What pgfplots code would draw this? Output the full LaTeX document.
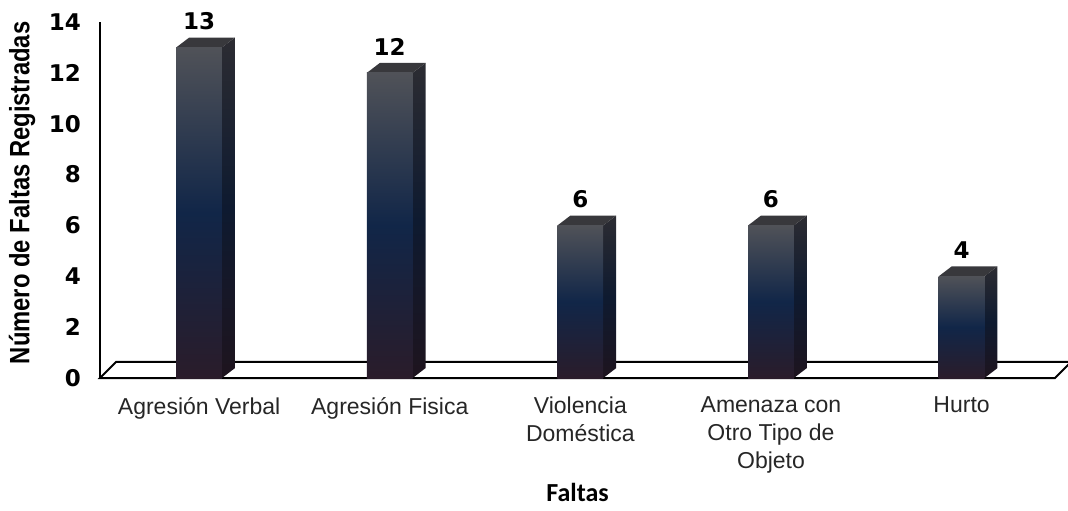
\documentclass[border=0pt]{standalone}
\usepackage{fontspec}
\setmainfont{Liberation Sans}
\newfontfamily\dejavu{DejaVu Sans}
\newfontfamily\narrowbold[FakeStretch=0.85]{Liberation Sans Bold}
\newfontfamily\carlito{Carlito}
\usepackage{pgfplots}
\pgfplotsset{compat=1.18}

\definecolor{fronttop}{RGB}{80,82,88}
\definecolor{frontmid}{RGB}{17,38,72}
\definecolor{frontbot}{RGB}{42,28,42}
\definecolor{sidetop}{RGB}{44,44,50}
\definecolor{sidemid}{RGB}{14,26,48}
\definecolor{sidebot}{RGB}{30,20,30}
\definecolor{topface}{RGB}{56,56,60}
\definecolor{labelgray}{RGB}{38,38,38}

% one 3D bar: #1 = category position, #2 = value
\newcommand{\cubebar}[2]{%
  \pgfmathsetmacro\xa{#1-0.12}%
  \pgfmathsetmacro\xb{#1+0.12}%
  \pgfmathsetmacro\xc{#1+0.188}%
  \pgfmathsetmacro\xd{#1-0.052}%
  \pgfmathsetmacro\yt{#2+0.39}%
  \edef\cubebarbody{%
    \noexpand\addplot[draw=none, top color=sidetop, bottom color=sidebot, middle color=sidemid]
      coordinates {(\xb,0) (\xc,0.39) (\xc,\yt) (\xb,#2)} --cycle;
    \noexpand\addplot[draw=none, fill=topface]
      coordinates {(\xa,#2) (\xb,#2) (\xc,\yt) (\xd,\yt)} --cycle;
    \noexpand\addplot[draw=none, top color=fronttop, bottom color=frontbot, middle color=frontmid]
      coordinates {(\xa,0) (\xb,0) (\xb,#2) (\xa,#2)} --cycle;
  }\cubebarbody
}

\begin{document}
\begin{tikzpicture}
\useasboundingbox (-50pt,-66pt) rectangle (484pt,189pt);
\begin{axis}[
  width=477.5pt, height=178pt, scale only axis,
  xmin=-0.52, xmax=4.49, ymin=0, ymax=14,
  clip=false,
  axis lines=left,
  axis line style={-},
  x axis line style={draw=none},
  y axis line style={line width=1pt},
  ytick={0,2,...,14},
  xtick={0,...,4},
  major tick length=0pt,
  /pgf/number format/assume math mode=true,
  yticklabel style={font=\dejavu\bfseries\fontsize{11.5}{13}\selectfont, xshift=-6pt},
  xticklabels={Agresión Verbal, Agresión Fisica, {Violencia\\Doméstica}, {Amenaza con\\Otro Tipo de\\Objeto}, Hurto},
  xticklabel style={align=center, font=\fontsize{11.5}{14}\selectfont, text=labelgray, yshift=-6pt},
  xlabel={Faltas},
  xlabel style={at={(axis description cs:0.5,0)}, anchor=center, yshift=-57pt, font=\carlito\bfseries\fontsize{13}{15}\selectfont},
  ylabel={Número de Faltas Registradas},
  ylabel style={at={(axis description cs:0,0.52)}, anchor=center, yshift=39pt, font=\narrowbold\fontsize{14}{16}\selectfont},
  nodes near coords style={anchor=center, yshift=13pt, font=\dejavu\bfseries\fontsize{11.5}{13}\selectfont},
]
% floor
\addplot[fill=white, draw=black, line width=1pt]
  coordinates {(-0.52,0) (4.49,0) (4.574,0.63) (-0.436,0.63)} --cycle;

\cubebar{0}{13}
\cubebar{1}{12}
\cubebar{2}{6}
\cubebar{3}{6}
\cubebar{4}{4}

% value labels
\addplot[draw=none, mark=none, nodes near coords]
  coordinates {(0,13) (1,12) (2,6) (3,6) (4,4)};
\end{axis}
\end{tikzpicture}
\end{document}
